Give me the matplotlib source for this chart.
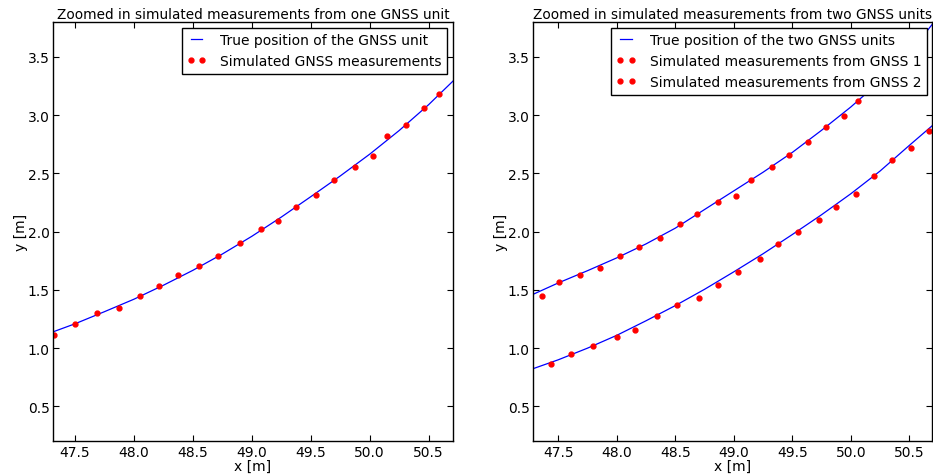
import numpy as np
import matplotlib
matplotlib.use("Agg")
import matplotlib.pyplot as plt

# one GNSS unit: true track and simulated measurements
one_true_x = [47.29, 47.5, 47.75, 48.0, 48.25, 48.5, 48.75, 49.0,
              49.25, 49.5, 49.75, 50.0, 50.25, 50.5, 50.75]
one_true_y = [1.131, 1.209, 1.313, 1.420, 1.540, 1.668, 1.808, 1.960,
              2.125, 2.300, 2.478, 2.665, 2.868, 3.090, 3.335]
one_meas_x = [47.324, 47.503, 47.685, 47.874, 48.053, 48.215, 48.377,
              48.555, 48.717, 48.896, 49.077, 49.225, 49.372, 49.543,
              49.698, 49.872, 50.025, 50.149, 50.311, 50.464, 50.592]
one_meas_y = [1.114, 1.204, 1.301, 1.346, 1.444, 1.535, 1.630,
              1.704, 1.793, 1.902, 2.021, 2.091, 2.214, 2.317,
              2.441, 2.552, 2.649, 2.819, 2.916, 3.064, 3.182]

# two GNSS units: true tracks and simulated measurements
two_true_x = [47.28, 47.5, 47.75, 48.0, 48.25, 48.5, 48.75, 49.0,
              49.25, 49.5, 49.75, 50.0, 50.25, 50.5, 50.72]
gnss1_true_y = [1.460, 1.560, 1.665, 1.775, 1.895, 2.030, 2.190, 2.350,
                2.510, 2.680, 2.870, 3.070, 3.290, 3.530, 3.810]
gnss2_true_y = [0.822, 0.900, 1.000, 1.110, 1.235, 1.365, 1.505, 1.655,
                1.810, 1.975, 2.145, 2.325, 2.520, 2.740, 2.930]
gnss1_meas_x = [47.358, 47.509, 47.685, 47.856, 48.031, 48.191, 48.372,
                48.540, 48.685, 48.864, 49.015, 49.148, 49.330, 49.469,
                49.637, 49.785, 49.938, 50.066]
gnss1_meas_y = [1.444, 1.567, 1.627, 1.685, 1.788, 1.870, 1.942,
                2.063, 2.151, 2.254, 2.306, 2.441, 2.555, 2.655,
                2.767, 2.899, 2.993, 3.119]
gnss2_meas_x = [47.438, 47.611, 47.797, 48.001, 48.156, 48.341, 48.514,
                48.704, 48.864, 49.036, 49.220, 49.382, 49.546, 49.728,
                49.873, 50.043, 50.200, 50.356, 50.518, 50.665]
gnss2_meas_y = [0.863, 0.946, 1.019, 1.095, 1.159, 1.275, 1.374,
                1.432, 1.540, 1.656, 1.767, 1.892, 1.997, 2.100,
                2.214, 2.326, 2.480, 2.618, 2.718, 2.867]

plt.rcParams.update({
    "font.size": 10,
    "xtick.direction": "in",
    "ytick.direction": "in",
    "xtick.top": True,
    "ytick.right": True,
    "xtick.major.size": 4,
    "ytick.major.size": 4,
    "xtick.major.pad": 2.5,
    "ytick.major.pad": 2.5,
    "axes.linewidth": 1.0,
    "legend.numpoints": 2,
    "legend.fancybox": False,
    "legend.framealpha": 1.0,
    "legend.edgecolor": "black",
})

fig = plt.figure(figsize=(9.33, 4.77), dpi=100)
ax1 = fig.add_axes([53 / 933, 34.7 / 477, 400 / 933, 419.3 / 477])
ax2 = fig.add_axes([533.3 / 933, 34.7 / 477, 399 / 933, 419.3 / 477])

ax1.plot(one_true_x, one_true_y, color=(0, 0, 1), lw=0.9,
         label="True position of the GNSS unit")
ax1.plot(one_meas_x, one_meas_y, "r.", ms=7,
         label="Simulated GNSS measurements")
ax1.set_xlim(47.313, 50.707)
ax1.set_title("Zoomed in simulated measurements from one GNSS unit",
              fontsize=9.8, pad=3)

ax2.plot(two_true_x, gnss1_true_y, color=(0, 0, 1), lw=0.9,
         label="True position of the two GNSS units")
ax2.plot(two_true_x, gnss2_true_y, color=(0, 0, 1), lw=0.9)
ax2.plot(gnss1_meas_x, gnss1_meas_y, "r.", ms=7,
         label="Simulated measurements from GNSS 1")
ax2.plot(gnss2_meas_x, gnss2_meas_y, "r.", ms=7,
         label="Simulated measurements from GNSS 2")
ax2.set_xlim(47.286, 50.697)
ax2.set_title("Zoomed in simulated measurements from two GNSS units",
              fontsize=9.8, pad=3)

for ax in (ax1, ax2):
    ax.set_ylim(0.2, 3.8)
    ax.set_xticks(np.arange(47.5, 50.75, 0.5))
    ax.set_yticks(np.arange(0.5, 3.75, 0.5))
    ax.set_xlabel("x [m]", labelpad=0)
    ax.set_ylabel("y [m]", labelpad=0)
    ax.legend(loc="upper right", handlelength=1.4, handletextpad=1.0,
              borderaxespad=0.4)

fig.savefig("out.png", dpi=100, facecolor="white")
